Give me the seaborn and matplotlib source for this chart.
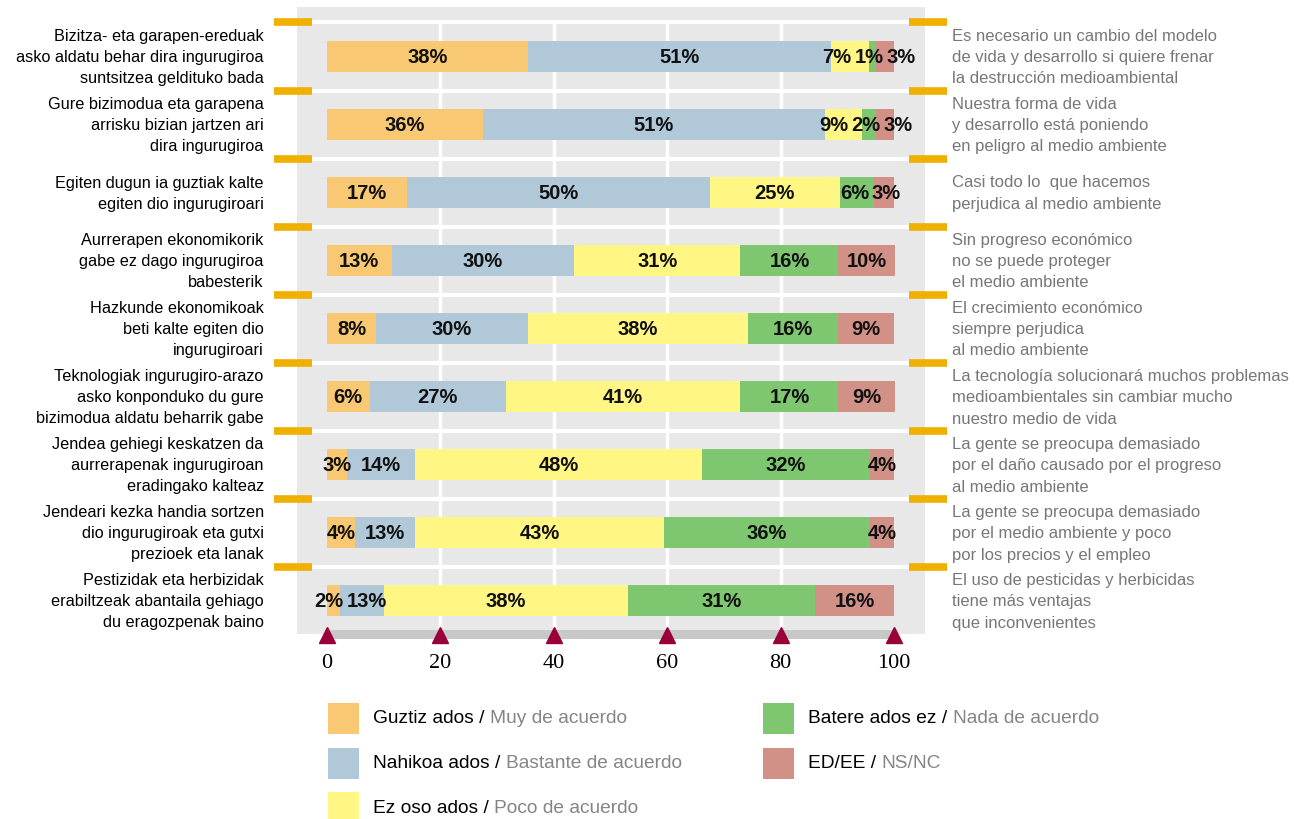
import matplotlib
matplotlib.use('Agg')
import matplotlib.pyplot as plt
import matplotlib.transforms as mtransforms
from matplotlib.patches import Rectangle
import pandas as pd
import seaborn as sns

# statements, Basque (left) and Spanish (right)
basque = [
    "Bizitza- eta garapen-ereduak\nasko aldatu behar dira ingurugiroa\nsuntsitzea geldituko bada",
    "Gure bizimodua eta garapena\narrisku bizian jartzen ari\ndira ingurugiroa",
    "Egiten dugun ia guztiak kalte\negiten dio ingurugiroari",
    "Aurrerapen ekonomikorik\ngabe ez dago ingurugiroa\nbabesterik",
    "Hazkunde ekonomikoak\nbeti kalte egiten dio\ningurugiroari",
    "Teknologiak ingurugiro-arazo\nasko konponduko du gure\nbizimodua aldatu beharrik gabe",
    "Jendea gehiegi keskatzen da\naurrerapenak ingurugiroan\neradingako kalteaz",
    "Jendeari kezka handia sortzen\ndio ingurugiroak eta gutxi\nprezioek eta lanak",
    "Pestizidak eta herbizidak\nerabiltzeak abantaila gehiago\ndu eragozpenak baino",
]
spanish = [
    "Es necesario un cambio del modelo\nde vida y desarrollo si quiere frenar\nla destrucción medioambiental",
    "Nuestra forma de vida\ny desarrollo está poniendo\nen peligro al medio ambiente",
    "Casi todo lo  que hacemos\nperjudica al medio ambiente",
    "Sin progreso económico\nno se puede proteger\nel medio ambiente",
    "El crecimiento económico\nsiempre perjudica\nal medio ambiente",
    "La tecnología solucionará muchos problemas\nmedioambientales sin cambiar mucho\nnuestro medio de vida",
    "La gente se preocupa demasiado\npor el daño causado por el progreso\nal medio ambiente",
    "La gente se preocupa demasiado\npor el medio ambiente y poco\npor los precios y el empleo",
    "El uso de pesticidas y herbicidas\ntiene más ventajas\nque inconvenientes",
]

# bar widths as drawn in the picture (%)
guztiz = [35.4, 27.5, 14.1, 11.4, 8.7, 7.5, 3.5, 4.9, 2.3]
nahikoa = [53.5, 60.3, 53.5, 32.2, 26.7, 24.1, 12.0, 10.6, 7.8]
ez_oso = [6.7, 6.5, 22.8, 29.3, 38.9, 41.3, 50.7, 44.0, 42.9]
batere = [1.2, 2.6, 6.1, 17.3, 15.8, 17.3, 29.5, 36.2, 33.1]
edee = [3.2, 3.1, 3.5, 9.9, 9.9, 9.9, 4.3, 4.3, 13.9]

# printed percentages
guztiz_lbl = [38, 36, 17, 13, 8, 6, 3, 4, 2]
nahikoa_lbl = [51, 51, 50, 30, 30, 27, 14, 13, 13]
ez_oso_lbl = [7, 9, 25, 31, 38, 41, 48, 43, 38]
batere_lbl = [1, 2, 6, 16, 16, 17, 32, 36, 31]
edee_lbl = [3, 3, 3, 10, 9, 9, 4, 4, 16]

legend_eu = ["Guztiz ados / ", "Nahikoa ados / ", "Ez oso ados / ", "Batere ados ez / ", "ED/EE / "]
legend_es = ["Muy de acuerdo", "Bastante de acuerdo", "Poco de acuerdo", "Nada de acuerdo", "NS/NC"]
colors = ["#F9C872", "#B0C8D8", "#FFF684", "#7EC66F", "#D19187"]
xticks = [0, 20, 40, 60, 80, 100]

series = [guztiz, nahikoa, ez_oso, batere, edee]
labels = [guztiz_lbl, nahikoa_lbl, ez_oso_lbl, batere_lbl, edee_lbl]

sns.set_theme(style="darkgrid", rc={"axes.facecolor": "#E8E8E8", "grid.color": "white"})
plt.rcParams['font.family'] = ['Liberation Sans', 'DejaVu Sans']

W, H = 1294, 820
fig = plt.figure(figsize=(W / 100, H / 100), dpi=100)
ax = fig.add_axes([297 / W, 1 - 635 / H, (925 - 297) / W, (635 - 8) / H])

df = pd.DataFrame({"stmt": basque})
cum = [0.0] * len(basque)
starts = []
for s in series:
    starts.append(list(cum))
    cum = [a + b for a, b in zip(cum, s)]
    df[f"c{len(starts)}"] = cum

# draw cumulative bars from the widest to the narrowest
for k in range(len(series), 0, -1):
    sns.barplot(data=df, x=f"c{k}", y="stmt", orient="h", color=colors[k - 1],
                saturation=1, width=0.455, linewidth=0, ax=ax)

ax.grid(False)
for sp in ax.spines.values():
    sp.set_visible(False)

px = 5.67  # pixels per percentage point
ax.set_xlim(-30 / px, 598 / px)
ylo = (635 - 57.5) / 68.06
yhi = (8 - 57.5) / 68.06
ax.set_ylim(ylo, yhi)

n = len(basque)
# white grid
ax.hlines([i - 0.5 for i in range(n)], -30 / px, 598 / px, color="white", lw=3, zorder=0.5)
ax.vlines(xticks[1:-1], -0.5, ylo, color="white", lw=2.5, zorder=0.5)

# orange separators on both sides
bounds = [i - 0.5 for i in range(n)]
ax.hlines(bounds, (274 - 327) / px, (312 - 327) / px, color="#F0B000", lw=5.5,
          capstyle="butt", clip_on=False)
ax.hlines(bounds, (909 - 327) / px, (947 - 327) / px, color="#F0B000", lw=5.5,
          capstyle="butt", clip_on=False)

# axis bar with triangles
ax.add_patch(Rectangle((0, (631 - 57.5) / 68.06), 100, 9 / 68.06, color="#C8C8C8",
                       lw=0, clip_on=False, zorder=2))
ax.plot(xticks, [(635.5 - 57.5) / 68.06] * len(xticks), ls="none", marker="^", ms=11,
        color="#99003A", clip_on=False, zorder=3)

ax.set_xticks(xticks)
ax.set_xticklabels([str(t) for t in xticks], family=['Liberation Serif', 'DejaVu Serif'],
                   fontsize=16, color="black")
ax.tick_params(axis="x", length=0, pad=14)
ax.set_xlabel("")
ax.set_ylabel("")
ax.set_yticks(range(n))
ax.set_yticklabels(basque, fontsize=11.7, color="black", linespacing=1.5, ha="right")
for lbl in ax.get_yticklabels():
    lbl.set_va("center")
ax.tick_params(axis="y", length=0, pad=24)

trans = mtransforms.blended_transform_factory(fig.transFigure, ax.transData)
for i, txt in enumerate(spanish):
    ax.text(952 / W, i, txt, transform=trans, ha="left", va="center", fontsize=12,
            color="#777777", linespacing=1.52)

# value labels, pushed apart where they collide
bar_font = dict(fontsize=14.5, fontweight="bold", color="#111111",
                ha="center", va="center", zorder=5)
texts = []
for i in range(n):
    row = []
    for k in range(len(series)):
        c = starts[k][i] + series[k][i] / 2
        row.append(ax.text(c, i, f"{labels[k][i]}%", **bar_font))
    texts.append(row)

fig.canvas.draw()
r = fig.canvas.get_renderer()
unit = ax.transData.transform((1, 0))[0] - ax.transData.transform((0, 0))[0]
gap = 3
for row in texts:
    c = [t.get_position()[0] * unit for t in row]
    w = [t.get_window_extent(r).width for t in row]
    for _ in range(200):
        moved = False
        for j in range(len(c) - 1):
            need = (w[j] + w[j + 1]) / 2 + gap
            d = c[j + 1] - c[j]
            if d < need - 0.01:
                s = (need - d) / 2
                c[j] -= s
                c[j + 1] += s
                moved = True
        if not moved:
            break
    for t, cx in zip(row, c):
        t.set_x(cx / unit)

# legend
spots = [(328, 719), (328, 764), (328, 809), (763, 719), (763, 764)]
for (x0, yc), col, eu, es in zip(spots, colors, legend_eu, legend_es):
    fig.add_artist(Rectangle((x0 / W, 1 - (yc + 15.5) / H), 31 / W, 31 / H, color=col,
                             lw=0, transform=fig.transFigure))
    t1 = fig.text((x0 + 45) / W, 1 - yc / H, eu, fontsize=13.8, color="black",
                  ha="left", va="center")
    ax.annotate(es, xy=(1, 0), xycoords=t1, fontsize=13.8, color="#858585",
                ha="left", va="bottom", annotation_clip=False)

fig.savefig("out.png", dpi=100)
